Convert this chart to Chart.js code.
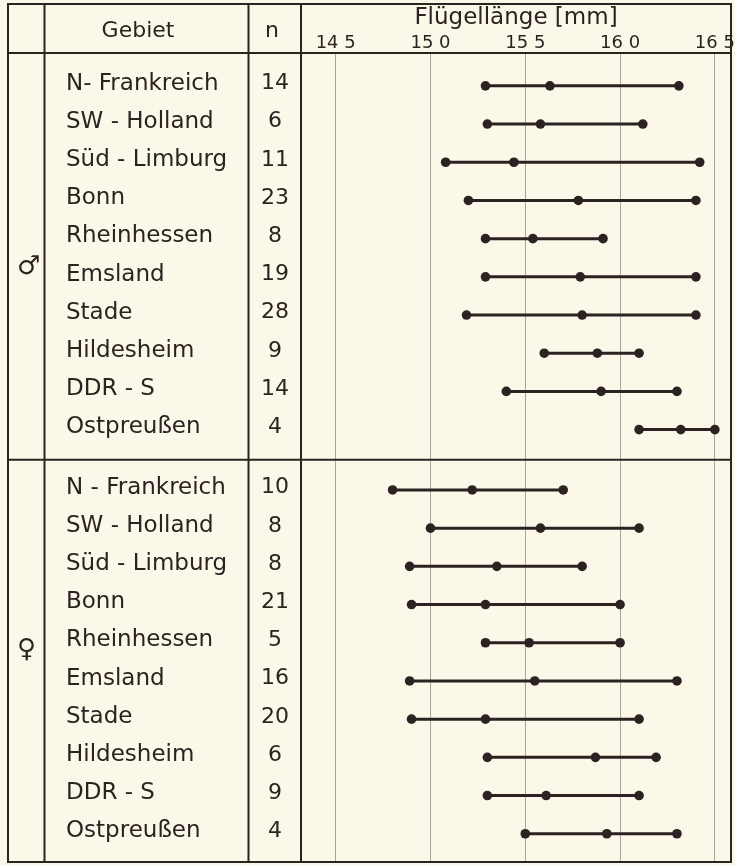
<!DOCTYPE html>
<html>
<head>
<meta charset="utf-8">
<script src="https://cdn.jsdelivr.net/npm/chart.js@4/dist/chart.umd.min.js"></script>
<style>
  html, body { margin: 0; padding: 0; background: #fbf8e9; }
  #wrap { width: 735px; height: 865px; position: relative; }
  canvas { display: block; }
</style>
</head>
<body>
<div id="wrap"><canvas id="c" width="735" height="865"></canvas></div>
<script>
// ---------- data ----------
const headers = ['Gebiet', 'n'];
const axisTitle = 'Flügellänge [mm]';
const groups = ['♂', '♀'];
const maleRegions = ['N- Frankreich', 'SW - Holland', 'Süd - Limburg', 'Bonn', 'Rheinhessen',
                     'Emsland', 'Stade', 'Hildesheim', 'DDR - S', 'Ostpreußen'];
const femaleRegions = ['N - Frankreich', 'SW - Holland', 'Süd - Limburg', 'Bonn', 'Rheinhessen',
                       'Emsland', 'Stade', 'Hildesheim', 'DDR - S', 'Ostpreußen'];
const maleN   = [14, 6, 11, 23, 8, 19, 28, 9, 14, 4];
const femaleN = [10, 8, 8, 21, 5, 16, 20, 6, 9, 4];
const maleMin  = [15.29, 15.30, 15.08, 15.20, 15.29, 15.29, 15.19, 15.60, 15.40, 16.10];
const maleMean = [15.63, 15.58, 15.44, 15.78, 15.54, 15.79, 15.80, 15.88, 15.90, 16.32];
const maleMax  = [16.31, 16.12, 16.42, 16.40, 15.91, 16.40, 16.40, 16.10, 16.30, 16.50];
const femaleMin  = [14.80, 15.00, 14.89, 14.90, 15.29, 14.89, 14.90, 15.30, 15.30, 15.50];
const femaleMean = [15.22, 15.58, 15.35, 15.29, 15.52, 15.55, 15.29, 15.87, 15.61, 15.93];
const femaleMax  = [15.70, 16.10, 15.80, 16.00, 16.00, 16.30, 16.10, 16.19, 16.10, 16.30];
const xTicks = [14.5, 15.0, 15.5, 16.0, 16.5];

// ---------- layout / style ----------
const INK = '#2b2321';
const BG = '#fbf8e9';
const GRID = 'rgba(70,60,55,0.45)';
const FONT = '"DejaVu Sans", sans-serif';
const FEMALE_START = 10.58;          // row slot where the female block starts
const Y_MIN = -0.86, Y_MAX = 20.32;  // row-slot range of the plot column
const X_MIN = 14.317, X_MAX = 16.585;

const rowsY = maleRegions.map((_, i) => i).concat(femaleRegions.map((_, i) => FEMALE_START + i));
const allRegions = maleRegions.concat(femaleRegions);
const allN = maleN.concat(femaleN).map(String);
const allMin = maleMin.concat(femaleMin);
const allMean = maleMean.concat(femaleMean);
const allMax = maleMax.concat(femaleMax);
const groupY = [4.75, FEMALE_START + 4.2];
const labelY = rowsY.map(v => v - 0.06);

const datasets = rowsY.map((y, i) => ({
  data: [{x: allMin[i], y}, {x: allMean[i], y}, {x: allMax[i], y}],
  showLine: true,
  borderColor: INK,
  borderWidth: 3,
  pointRadius: 4.8,
  pointHoverRadius: 4.8,
  pointBackgroundColor: INK,
  pointBorderWidth: 0,
  yAxisID: 'y',
  clip: false
}));

function yAxis(weight, width, positions, labels, font, crossAlign, padding) {
  return {
    type: 'linear', position: 'left', weight, reverse: true, min: Y_MIN, max: Y_MAX,
    grid: { display: false, drawTicks: false },
    border: { display: false },
    afterBuildTicks: s => { s.ticks = positions.map(v => ({ value: v })); },
    afterFit: s => { s.width = width; s.paddingTop = 0; s.paddingBottom = 0; },
    ticks: { autoSkip: false, crossAlign, padding, color: INK, font,
             callback: (v, i) => labels[i] }
  };
}

const tablePlugin = {
  id: 'table',
  beforeDraw(chart) {
    const ctx = chart.ctx;
    ctx.save();
    ctx.fillStyle = BG;
    ctx.fillRect(0, 0, chart.width, chart.height);
    ctx.restore();
  },
  afterDraw(chart) {
    const { ctx, chartArea: ca, scales } = chart;
    const yDiv = scales.y.getPixelForValue((maleRegions.length - 1 + FEMALE_START) / 2);
    ctx.save();
    ctx.strokeStyle = INK;
    ctx.lineWidth = 2;
    ctx.beginPath();
    ctx.rect(8, 4, ca.right - 8, ca.bottom - 4);
    [44.5, 248.5, ca.left].forEach(x => { ctx.moveTo(x, 4); ctx.lineTo(x, ca.bottom); });
    ctx.moveTo(8, ca.top); ctx.lineTo(ca.right, ca.top);
    ctx.moveTo(8, yDiv); ctx.lineTo(ca.right, yDiv);
    ctx.stroke();
    ctx.fillStyle = INK;
    ctx.font = '22px ' + FONT;
    ctx.textAlign = 'center';
    ctx.textBaseline = 'middle';
    ctx.fillText(headers[0], 138, 31);
    ctx.fillText(headers[1], 272, 31);
    ctx.restore();
  }
};

new Chart(document.getElementById('c'), {
  type: 'scatter',
  data: { datasets },
  plugins: [tablePlugin],
  options: {
    responsive: false,
    animation: false,
    events: [],
    layout: { autoPadding: false, padding: { left: 17, top: 0, right: 4, bottom: 3 } },
    plugins: { legend: { display: false }, tooltip: { enabled: false } },
    scales: {
      x: {
        type: 'linear', position: 'top', min: X_MIN, max: X_MAX,
        afterBuildTicks: s => { s.ticks = xTicks.map(v => ({ value: v })); },
        afterFit: s => { s.height = 53; s.paddingLeft = 0; s.paddingRight = 0; },
        grid: { color: GRID, lineWidth: 1, drawTicks: false },
        border: { display: false },
        ticks: { autoSkip: false, maxRotation: 0, padding: 0, color: INK,
                 font: { family: FONT, size: 18, lineHeight: 1.1 },
                 callback: v => v.toFixed(1).replace('.', ' ') },
        title: { display: true, text: axisTitle, color: INK,
                 font: { family: FONT, size: 23 }, padding: { top: 4, bottom: 0 } }
      },
      sex: yAxis(2, 49, groupY, groups, { family: FONT, size: 26 }, 'far', 0),
      y: yAxis(1, 182, labelY, allRegions, { family: FONT, size: 23 }, 'far', 0),
      n: yAxis(0, 53, labelY, allN, { family: FONT, size: 22 }, 'center', 12)
    }
  }
});
</script>
</body>
</html>
